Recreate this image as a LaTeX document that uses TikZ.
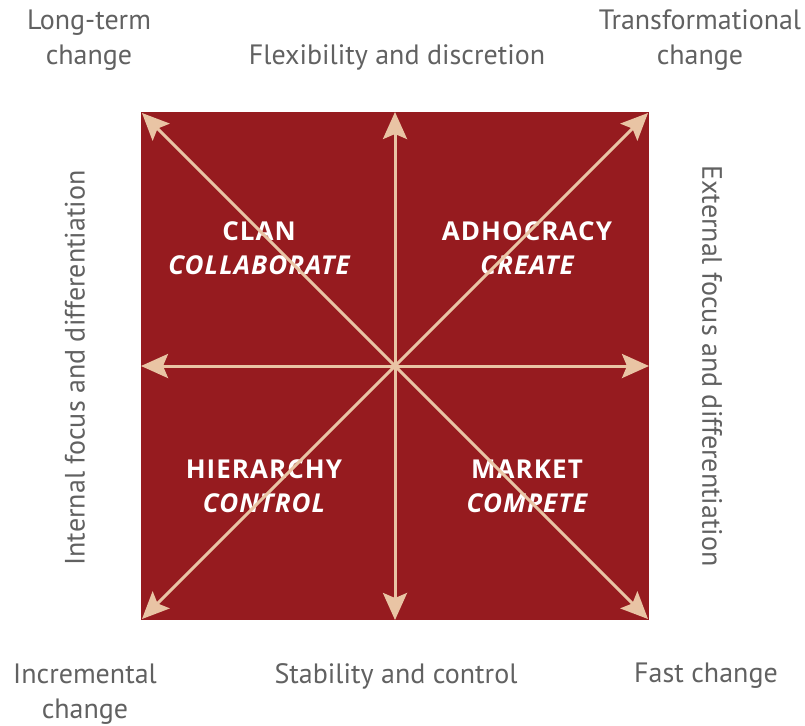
\documentclass[tikz,border=0pt]{standalone}
\usepackage{fontspec}
\setmainfont{PT Sans}
\newfontfamily\boldfam[LetterSpace=4]{Open Sans}
\usetikzlibrary{arrows.meta}
\definecolor{sqred}{HTML}{961B1F}
\definecolor{beige}{HTML}{E9C4A4}
\definecolor{txtgray}{HTML}{616161}
\begin{document}
\begin{tikzpicture}[x=1pt,y=-1pt,
  outer/.style={text=txtgray,font=\fontsize{28}{35}\selectfont,align=center,inner sep=0pt},
  inner/.style={text=white,font=\boldfam\fontsize{26}{34}\selectfont\bfseries,align=center,inner sep=0pt},
  arr/.style={draw=beige,line width=3pt,-{Stealth[length=27pt,width=24pt,inset=5pt]}}]
\useasboundingbox (0,0) rectangle (805,725);
\fill[sqred] (141,112) rectangle (649,620);
\coordinate (c) at (395,366);
\coordinate (tl) at (142,113);
\coordinate (tr) at (648,113);
\coordinate (bl) at (142,619);
\coordinate (br) at (648,619);
\coordinate (t) at (395,112);
\coordinate (b) at (395,620);
\coordinate (l) at (141,366);
\coordinate (r) at (649,366);
% labels
\node[outer] (lt) at (89,40) {Long-term\\change};
\node[outer] (fd) at (397,57) {Flexibility and discretion};
\node[outer] (tc) at (700,40) {Transformational\\change};
\node[outer,rotate=90] (ifd) at (75,368) {Internal focus and differentiation};
\node[outer,rotate=-90] (efd) at (712,366) {External focus and differentiation};
\node[outer] (ic) at (85,694) {Incremental\\change};
\node[outer] (sc) at (396,676) {Stability and control};
\node[outer] (fc) at (706,676) {Fast change};
\node[inner] (clan) at (259,248) {CLAN\\\itshape COLLABORATE};
\node[inner] (adh) at (527,248) {ADHOCRACY\\\itshape CREATE};
\node[inner] (hie) at (264,486) {HIERARCHY\\\itshape CONTROL};
\node[inner] (mkt) at (527,486) {MARKET\\\itshape COMPETE};
% arrows
\foreach \e in {tl,tr,bl,br,t,b,l,r}{\draw[arr] (c) -- (\e);}
\end{tikzpicture}
\end{document}
